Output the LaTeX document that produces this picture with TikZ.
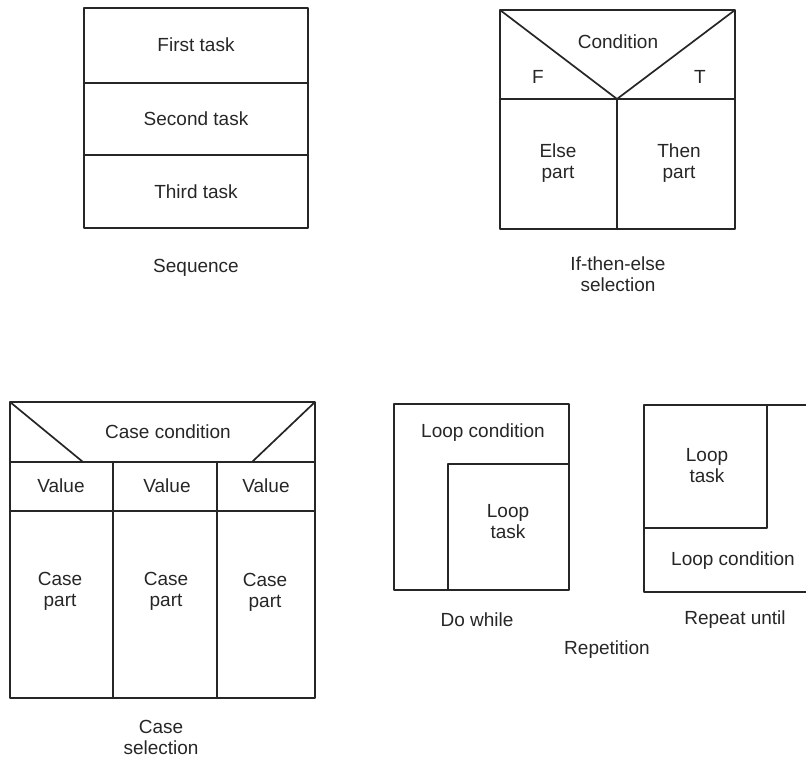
\documentclass[tikz,border=0pt]{standalone}
\usepackage{fontspec}
\setmainfont{Liberation Sans}
\begin{document}
\begin{tikzpicture}[x=1pt,y=-1pt,
  frame/.style={draw=black!85,line width=1.7pt,line join=round},
  lbl/.style={text=black!85,font=\fontsize{19}{21}\selectfont,inner sep=0pt,align=center},
  captext/.style={lbl,font=\fontsize{19}{21}\selectfont}]
\useasboundingbox (0,0) rectangle (806,760);

% Sequence
\draw[frame] (84,8) rectangle (308,228);
\draw[frame] (84,83) -- (308,83);
\draw[frame] (84,155) -- (308,155);
\node[lbl] (first) at (196,45) {First task};
\node[lbl] (second) at (196,119) {Second task};
\node[lbl] (third) at (196,192) {Third task};
\node[captext] (seq) at (196,268) {Sequence};

% If-then-else
\draw[frame] (500,10) rectangle (735,229);
\draw[frame] (500,99) -- (735,99);
\draw[frame] (500,10) -- (617,99) -- (735,10);
\draw[frame] (617,99) -- (617,229);
\node[lbl] (cond) at (618,42) {Condition};
\node[lbl] (f) at (538,77) {F};
\node[lbl] (t) at (700,77) {T};
\node[lbl] (else) at (558,163) {Else\\part};
\node[lbl] (then) at (679,163) {Then\\part};
\node[captext] (ite) at (618,274) {If-then-else\\selection};

% Case selection
\draw[frame] (10,402) rectangle (315,698);
\draw[frame] (10,462) -- (315,462);
\draw[frame] (10,511) -- (315,511);
\draw[frame] (10,402) -- (83,462);
\draw[frame] (315,402) -- (252,462);
\draw[frame] (113,462) -- (113,698);
\draw[frame] (217,462) -- (217,698);
\node[lbl] (casecond) at (168,432) {Case condition};
\node[lbl] (v1) at (61,486) {Value};
\node[lbl] (v2) at (167,486) {Value};
\node[lbl] (v3) at (266,486) {Value};
\node[lbl] (c1) at (60,591) {Case\\part};
\node[lbl] (c2) at (166,591) {Case\\part};
\node[lbl] (c3) at (265,592) {Case\\part};
\node[captext] (casecap) at (161,737) {Case\\selection};

% Do while
\draw[frame] (394,404) rectangle (569,590);
\draw[frame] (448,590) -- (448,464) -- (569,464);
\node[lbl] (dwcond) at (483,433) {Loop condition};
\node[lbl] (dwtask) at (508,522) {Loop\\task};
\node[captext] (dw) at (477,620) {Do while};

% Repeat until
\draw[frame] (806,405) -- (644,405) -- (644,592) -- (806,592);
\draw[frame] (644,528) -- (767,528) -- (767,405);
\node[lbl] (rutask) at (707,466) {Loop\\task};
\node[lbl] (rucond) at (733,561) {Loop condition};
\node[captext] (ru) at (735,620) {Repeat until};

\node[captext] (rep) at (607,650) {Repetition};
\end{tikzpicture}
\end{document}
